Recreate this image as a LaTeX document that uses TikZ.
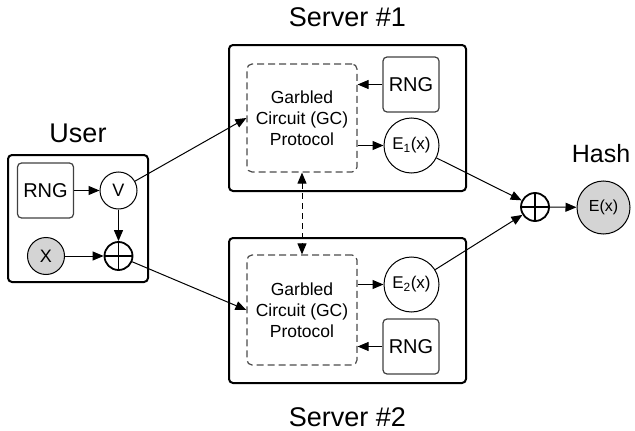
\documentclass[tikz,border=0pt]{standalone}
\usepackage{fontspec}
\setmainfont{Liberation Sans}
\usetikzlibrary{arrows.meta}

\begin{document}
\begin{tikzpicture}[x=1pt,y=-1pt, line width=1pt,
    title/.style={font=\fontsize{27}{30}\selectfont, anchor=base},
    srvbox/.style={draw, line width=2pt, rounded corners=4pt, inner sep=0},
    gcbox/.style={draw=black!70, line width=1.2pt, dash pattern=on 7pt off 4pt, rounded corners=5pt,
        align=center, font=\fontsize{17.5}{21}\selectfont, inner sep=0},
    rngbox/.style={draw=black!75, line width=1.2pt, rounded corners=4pt, minimum width=56pt,
        minimum height=55pt, inner sep=0, font=\fontsize{20}{24}\selectfont},
    ball/.style={draw, circle, inner sep=0, font=\fontsize{17}{20}\selectfont},
    xor/.style={draw, circle, line width=1.8pt, minimum size=28pt, inner sep=0,
        path picture={\draw[line width=1.8pt] (path picture bounding box.north) -- (path picture bounding box.south)
            (path picture bounding box.west) -- (path picture bounding box.east);}},
    arr/.style={-{Triangle[length=11pt,width=9pt]}, line width=1pt}]

    \useasboundingbox (0,0) rectangle (635,431);

    % titles
    \node[title] (usrT) at (78,142) {User};
    \node[title] (srvAT) at (347.5,27) {Server \#1};
    \node[title] (srvBT) at (347.5,426) {Server \#2};
    \node[title, font=\fontsize{25}{28}\selectfont] (hashT) at (601,162) {Hash};

    % outer boxes
    \node[srvbox, minimum width=140pt, minimum height=127pt] (usr) at (78,218.5) {};
    \node[srvbox, minimum width=237pt, minimum height=146pt] (srvA) at (347.5,118) {};
    \node[srvbox, minimum width=237pt, minimum height=145pt] (srvB) at (347.5,310.5) {};

    % user
    \node[rngbox] (rngU) at (45.5,190.5) {RNG};
    \node[ball, minimum size=37pt, font=\fontsize{18}{20}\selectfont] (v) at (118.5,190.5) {V};
    \node[ball, fill=black!17, minimum size=37pt, font=\fontsize{18}{20}\selectfont] (x) at (46,256) {X};
    \node[xor] (xorU) at (118.5,256) {};

    % server 1
    \node[gcbox, minimum width=110pt, minimum height=108pt] (gcA) at (302,118) {Garbled\\Circuit (GC)\\Protocol};
    \node[rngbox] (rngA) at (411,84.5) {RNG};
    \node[ball, minimum size=55pt] (eA) at (411.5,145.5) {E\textsubscript{1}(x)};

    % server 2
    \node[gcbox, minimum width=110pt, minimum height=110pt] (gcB) at (302,310) {Garbled\\Circuit (GC)\\Protocol};
    \node[ball, minimum size=55pt] (eB) at (411.5,284.5) {E\textsubscript{2}(x)};
    \node[rngbox] (rngB) at (411,346.5) {RNG};

    % hash
    \node[xor] (xorH) at (535,207) {};
    \node[ball, fill=black!17, minimum size=53pt, font=\fontsize{16}{19}\selectfont] (eH) at (603.5,207.5) {E(x)};

    \draw[arr] (rngU) -- (v);
    \draw[arr] (v) -- (xorU);
    \draw[arr] (x) -- (xorU);
    \draw[arr] (v) -- (gcA.west);
    \draw[arr] (xorU) -- (gcB.west);
    \draw[arr] (rngA) -- (rngA -| gcA.east);
    \draw[arr] (gcA.east |- eA) -- (eA);
    \draw[arr] (gcB.east |- eB) -- (eB);
    \draw[arr] (rngB) -- (rngB -| gcB.east);
    \draw[arr, {Triangle[length=11pt,width=9pt]}-{Triangle[length=11pt,width=9pt]}, dash pattern=on 6pt off 4pt] (gcA) -- (gcB);
    \draw[arr] (eA) -- (xorH);
    \draw[arr] (eB) -- (xorH);
    \draw[arr] (xorH) -- (eH);
\end{tikzpicture}
\end{document}
